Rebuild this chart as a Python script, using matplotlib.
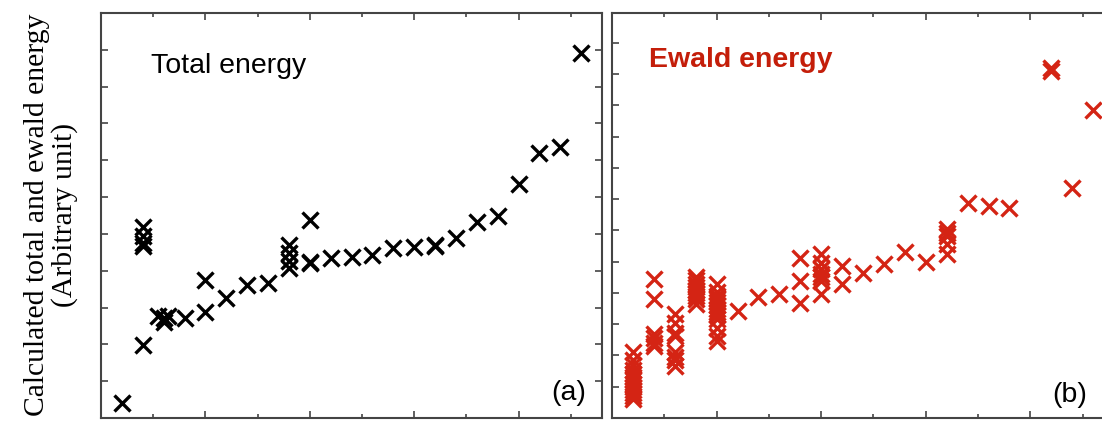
import matplotlib.pyplot as plt
from matplotlib.ticker import MultipleLocator

# (a) total energy
total_x = [0.2, 0.4, 0.4, 0.4, 0.4, 0.4, 0.55, 0.6, 0.64, 0.6,
           0.8, 1.0, 1.0, 1.2, 1.4, 1.6, 1.8, 1.8, 1.8, 1.8,
           2.0, 2.0, 2.0, 2.2, 2.4, 2.6, 2.8, 3.0, 3.2, 3.2,
           3.4, 3.6, 3.8, 4.0, 4.2, 4.4, 4.6]
total_y = [0.42, 1.98, 5.18, 4.95, 4.75, 4.68, 2.77, 2.72, 2.77, 2.61,
           2.71, 2.87, 3.75, 3.27, 3.61, 3.66, 4.70, 4.48, 4.27, 4.07,
           5.38, 4.25, 4.20, 4.34, 4.38, 4.43, 4.61, 4.65, 4.70, 4.66,
           4.90, 5.31, 5.49, 6.36, 7.19, 7.37, 9.91]

# (b) ewald energy
ewald_x = [0.2] * 13 + [0.4] * 6 + [0.6] * 8 + [0.8] * 9 + [1.0] * 13 + \
          [1.2, 1.4, 1.6, 1.8, 1.8, 1.8] + [2.0] * 7 + [2.2, 2.2, 2.4, 2.6, 2.8, 3.0] + \
          [3.2] * 5 + [3.4, 3.6, 3.8, 4.2, 4.2, 4.4, 4.6]
ewald_y = [2.10, 1.85, 1.70, 1.55, 1.40, 1.30, 1.20, 1.10, 1.00, 0.90, 0.80, 0.70, 0.62,
           4.43, 3.82, 2.68, 2.55, 2.40, 2.30,
           3.32, 3.05, 2.73, 2.63, 2.10, 1.94, 1.84, 1.67,
           4.50, 4.40, 4.30, 4.20, 4.10, 4.00, 3.90, 3.80, 3.64,
           4.27, 4.02, 3.90, 3.80, 3.70, 3.60, 3.50, 3.40, 3.28, 3.16, 2.89, 2.63, 2.47,
           3.42, 3.87, 3.96, 5.13, 4.38, 3.69,
           5.23, 4.97, 4.75, 4.60, 4.50, 4.38, 3.96,
           4.86, 4.27, 4.63, 4.91, 5.30, 4.99,
           6.03, 5.92, 5.82, 5.55, 5.23,
           6.88, 6.77, 6.72, 11.19, 11.08, 7.36, 9.86]

W, H = 1102, 426
fig = plt.figure(figsize=(W / 100, H / 100), dpi=100)

ax1 = fig.add_axes([101 / W, 1 - 418 / H, 501 / W, 405 / H])
ax2 = fig.add_axes([612 / W, 1 - 418 / H, 502 / W, 405 / H])

ax1.plot(total_x, total_y, 'x', color='black', ms=11, mew=2.4)
ax2.plot(ewald_x, ewald_y, 'x', color='#d42414', ms=11, mew=2.4)

ax1.set_ylim(0, 11)
ax2.set_ylim(0, 12.95)
for ax in (ax1, ax2):
    ax.set_xlim(0, 4.8)
    ax.xaxis.set_major_locator(MultipleLocator(1))
    ax.xaxis.set_minor_locator(MultipleLocator(0.5))
    ax.yaxis.set_major_locator(MultipleLocator(1))
    ax.tick_params(which='both', direction='in', top=True, right=True,
                   labelbottom=False, labelleft=False, color='#444444', width=1.2)
    ax.tick_params(which='major', length=5)
    ax.tick_params(which='minor', length=3)
    ax.tick_params(axis='y', length=5)
    for s in ax.spines.values():
        s.set_color('#444444')
        s.set_linewidth(1.5)

ax1.text(50 / 501, 1 - 60 / 405, 'Total energy', transform=ax1.transAxes,
         fontsize=20.5, family='Liberation Sans', color='black')
ax2.text(37 / 502, 1 - 54 / 405, 'Ewald energy', transform=ax2.transAxes,
         fontsize=20.5, family='Liberation Sans', fontweight='bold', color='#c41e0a')
ax1.text(450 / 501, 1 - 387 / 405, '(a)', transform=ax1.transAxes,
         fontsize=20.5, family='Liberation Sans')
ax2.text(440 / 502, 1 - 389 / 405, '(b)', transform=ax2.transAxes,
         fontsize=20.5, family='Liberation Sans')

fig.text(51 / W, 1 - 215 / H, 'Calculated total and ewald energy\n(Arbitrary unit)',
         rotation=90, ha='center', va='center', fontsize=21.3,
         family='Liberation Serif', multialignment='center', linespacing=1.1)

fig.savefig('out.png', dpi=100)
